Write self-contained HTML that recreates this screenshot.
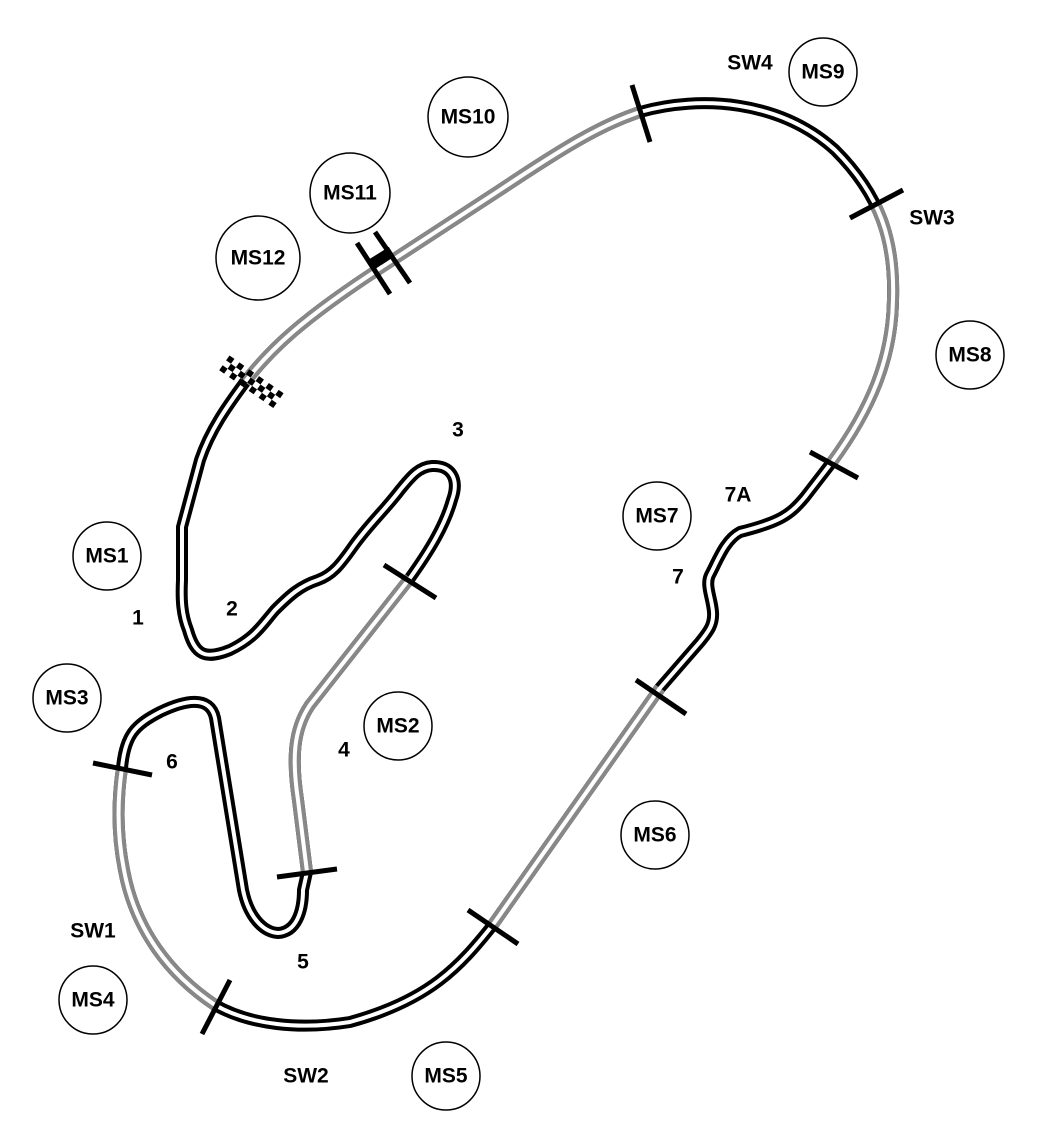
<!DOCTYPE html>
<html><head><meta charset="utf-8"><style>
html,body{margin:0;padding:0;background:#fff;}
svg{display:block;}
text{font-family:"Liberation Sans",sans-serif;font-weight:bold;font-size:21px;fill:#000;text-anchor:middle;dominant-baseline:central;}
</style></head><body>
<svg width="1041" height="1126" viewBox="0 0 1041 1126" xmlns="http://www.w3.org/2000/svg">
<g fill="none" stroke-linejoin="round" stroke-linecap="butt">
<path d="M245,382 C270,350 300,320 385,265 L500,190 C560,150 600,125 640,112 C700,95 780,100 835,150 C880,195 895,240 893,300 C892,360 870,410 832,462 L805,497 C790,515 780,522 740,532 C725,540 718,560 710,575 C705,585 712,598 713,612 C714,625 708,632 700,642 L660,688 L492,926 C460,966 430,1000 350,1022 C300,1030 250,1025 215,1005 C170,975 135,930 124,870 C116,830 118,795 122,768 C125,735 135,725 160,712 C185,700 210,695 215,718 L243,890 C248,915 262,932 278,933 C296,932 303,912 303,890 L307,872 L298,800 C292,760 293,730 310,705 L410,578 C430,550 445,525 452,500 C460,478 450,465 432,466 C418,467 410,478 400,490 C385,510 368,525 352,548 C340,565 332,575 318,580 C300,586 290,595 275,610 C262,625 255,638 230,650 C205,660 195,655 188,630 C182,615 181,600 182,580 L182,527 L200,460 C210,430 228,405 245,382 Z" stroke="#000" stroke-width="12"/>
<path d="M245,382 C270,350 300,320 385,265 L500,190 C560,150 600,125 640,112" stroke="#888" stroke-width="12"/>
<path d="M835,150 C880,195 895,240 893,300 C892,360 870,410 832,462" stroke="#888" stroke-width="12" stroke-dasharray="0 68 1000"/>
<path d="M660,688 L492,926" stroke="#888" stroke-width="12"/>
<path d="M215,1005 C170,975 135,930 124,870 C116,830 118,795 122,768" stroke="#888" stroke-width="12"/>
<path d="M307,872 L298,800 C292,760 293,730 310,705 L410,578" stroke="#888" stroke-width="12"/>
<path d="M373,264 L392,252" stroke="#000" stroke-width="12"/>
<path d="M245,382 C270,350 300,320 385,265 L500,190 C560,150 600,125 640,112 C700,95 780,100 835,150 C880,195 895,240 893,300 C892,360 870,410 832,462 L805,497 C790,515 780,522 740,532 C725,540 718,560 710,575 C705,585 712,598 713,612 C714,625 708,632 700,642 L660,688 L492,926 C460,966 430,1000 350,1022 C300,1030 250,1025 215,1005 C170,975 135,930 124,870 C116,830 118,795 122,768 C125,735 135,725 160,712 C185,700 210,695 215,718 L243,890 C248,915 262,932 278,933 C296,932 303,912 303,890 L307,872 L298,800 C292,760 293,730 310,705 L410,578 C430,550 445,525 452,500 C460,478 450,465 432,466 C418,467 410,478 400,490 C385,510 368,525 352,548 C340,565 332,575 318,580 C300,586 290,595 275,610 C262,625 255,638 230,650 C205,660 195,655 188,630 C182,615 181,600 182,580 L182,527 L200,460 C210,430 228,405 245,382 Z" stroke="#fff" stroke-width="4"/>
</g>
<g stroke="#000" stroke-width="5">
<line x1="632" y1="85" x2="650" y2="142"/>
<line x1="850" y1="218" x2="903" y2="190"/>
<line x1="810" y1="452" x2="858" y2="478"/>
<line x1="636" y1="680" x2="686" y2="714"/>
<line x1="468" y1="910" x2="518" y2="944"/>
<line x1="230" y1="980" x2="202" y2="1034"/>
<line x1="93" y1="763" x2="152" y2="775"/>
<line x1="277" y1="877" x2="337" y2="869"/>
<line x1="384" y1="565" x2="436" y2="598"/>
<line x1="357" y1="243" x2="390" y2="294"/>
<line x1="375" y1="232" x2="410" y2="283"/>
</g>
<g transform="translate(250,382) rotate(35)" fill="#000">
<rect x="-32" y="-10" width="6" height="6"/><rect x="-20" y="-10" width="6" height="6"/><rect x="-8" y="-10" width="6" height="6"/><rect x="4" y="-10" width="6" height="6"/><rect x="16" y="-10" width="6" height="6"/><rect x="28" y="-10" width="6" height="6"/>
<rect x="-26" y="-4" width="6" height="6"/><rect x="-14" y="-4" width="6" height="6"/><rect x="-2" y="-4" width="6" height="6"/><rect x="10" y="-4" width="6" height="6"/><rect x="22" y="-4" width="6" height="6"/>
<rect x="-32" y="2" width="6" height="6"/><rect x="-20" y="2" width="6" height="6"/><rect x="-8" y="2" width="6" height="6"/><rect x="4" y="2" width="6" height="6"/><rect x="16" y="2" width="6" height="6"/><rect x="28" y="2" width="6" height="6"/>
</g>
<g fill="#fff" stroke="#000" stroke-width="1.5">
<circle cx="107" cy="556" r="34"/><circle cx="67" cy="698" r="34"/><circle cx="93" cy="1000" r="34"/>
<circle cx="398" cy="726" r="34"/><circle cx="446" cy="1076" r="34"/><circle cx="655" cy="835" r="34"/>
<circle cx="657" cy="516" r="34"/><circle cx="970" cy="355" r="34"/><circle cx="823" cy="72" r="34"/>
<circle cx="468" cy="117" r="40"/><circle cx="350" cy="193" r="40"/><circle cx="258" cy="258" r="42"/>
</g>
<text x="107" y="556">MS1</text><text x="67" y="698">MS3</text><text x="93" y="1000">MS4</text>
<text x="398" y="726">MS2</text><text x="446" y="1076">MS5</text><text x="655" y="835">MS6</text>
<text x="657" y="516">MS7</text><text x="970" y="355">MS8</text><text x="823" y="72">MS9</text>
<text x="468" y="117">MS10</text><text x="350" y="193">MS11</text><text x="258" y="258">MS12</text>
<text x="750" y="63">SW4</text><text x="932" y="218">SW3</text><text x="93" y="931">SW1</text><text x="306" y="1076">SW2</text>
<text x="138" y="618">1</text><text x="232" y="609">2</text><text x="458" y="430">3</text><text x="344" y="750">4</text>
<text x="303" y="962">5</text><text x="172" y="762">6</text><text x="678" y="577">7</text><text x="738" y="495">7A</text>
</svg>
</body></html>
